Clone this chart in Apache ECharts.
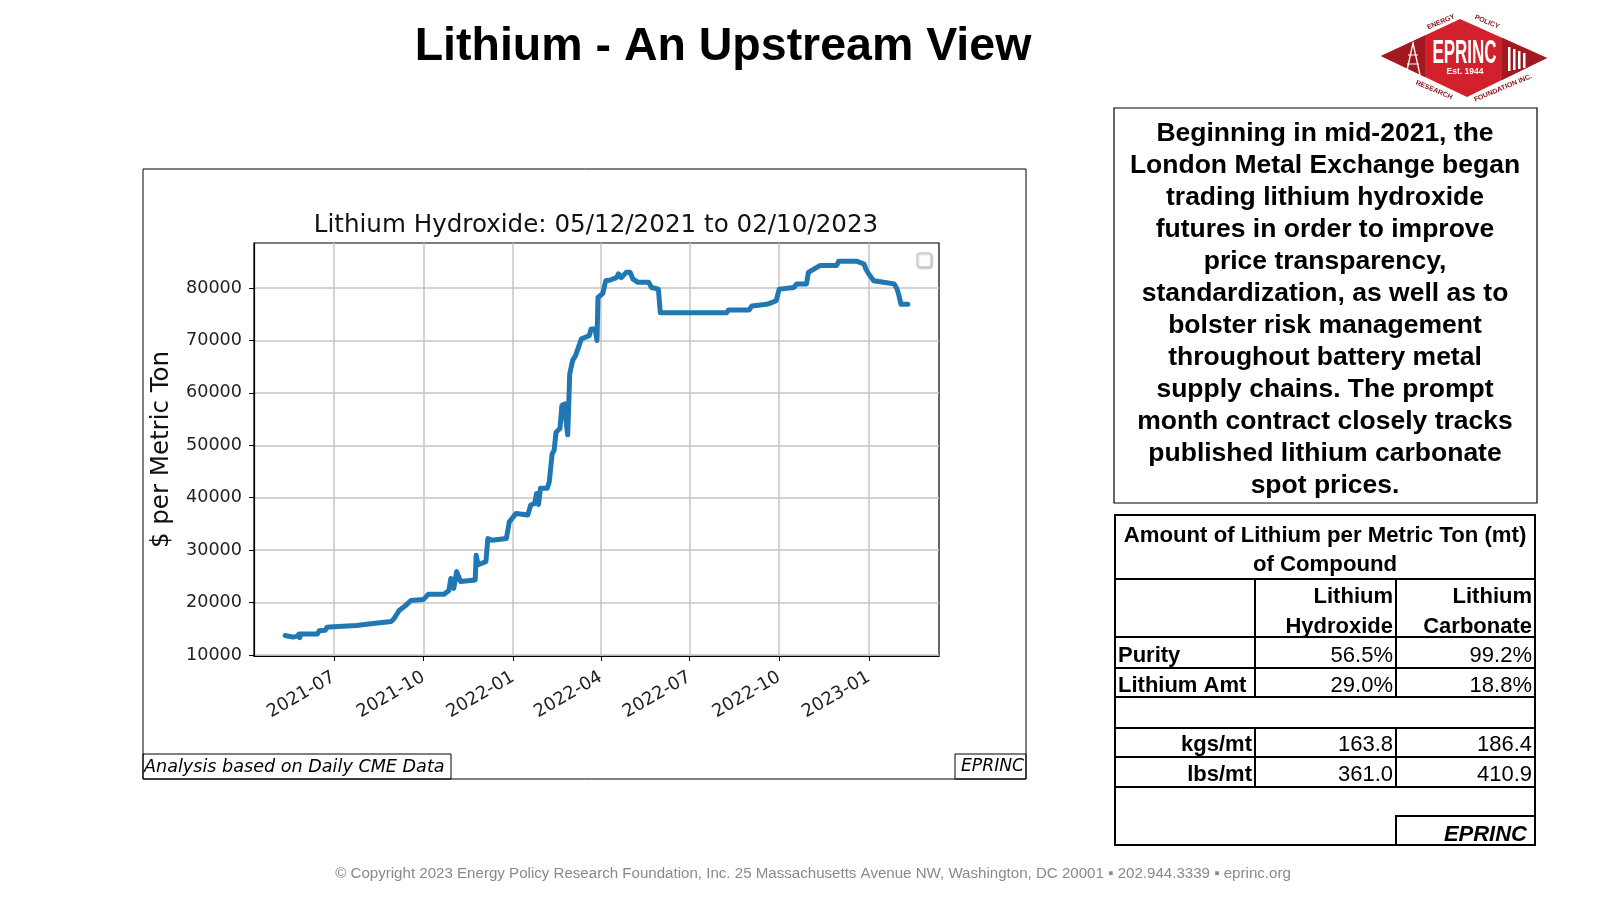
<!DOCTYPE html>
<html>
<head>
<meta charset="utf-8">
<title>Lithium - An Upstream View</title>
<script src="https://cdn.jsdelivr.net/npm/echarts@6/dist/echarts.min.js"></script>
<style>
  html, body { margin: 0; padding: 0; background: #fff; }
  #main { width: 1600px; height: 900px; }
</style>
</head>
<body>
<div id="main"></div>
<script>
// LME lithium hydroxide, $ per metric ton
var priceDates = [
  '2021-05-12','2021-05-14','2021-05-20','2021-05-25','2021-05-26','2021-05-27','2021-05-28','2021-06-14',
  '2021-06-16','2021-06-22','2021-06-24','2021-07-01','2021-07-24','2021-08-10','2021-08-29','2021-09-01',
  '2021-09-06','2021-09-13','2021-09-18','2021-10-01','2021-10-06','2021-10-22','2021-10-27','2021-10-29',
  '2021-11-01','2021-11-04','2021-11-08','2021-11-23','2021-11-24','2021-11-26','2021-12-04','2021-12-06',
  '2021-12-10','2021-12-25','2021-12-28','2022-01-04','2022-01-16','2022-01-19','2022-01-23','2022-01-25',
  '2022-01-27','2022-01-29','2022-02-05','2022-02-07','2022-02-10','2022-02-12','2022-02-14','2022-02-18',
  '2022-02-20','2022-02-23','2022-02-24','2022-02-26','2022-02-28','2022-03-03','2022-03-06','2022-03-12',
  '2022-03-20','2022-03-22','2022-03-26','2022-03-28','2022-03-29','2022-04-03','2022-04-06','2022-04-10',
  '2022-04-17','2022-04-19','2022-04-22','2022-04-27','2022-05-01','2022-05-04','2022-05-09','2022-05-20',
  '2022-05-23','2022-05-30','2022-06-01','2022-08-08','2022-08-10','2022-08-31','2022-09-03','2022-09-18',
  '2022-09-23','2022-09-28','2022-10-01','2022-10-16','2022-10-19','2022-10-29','2022-10-31','2022-11-09',
  '2022-11-12','2022-11-29','2022-12-01','2022-12-20','2022-12-27','2022-12-29','2023-01-02','2023-01-06',
  '2023-01-16','2023-01-27','2023-01-30','2023-02-01','2023-02-03','2023-02-10'
];
var priceValues = [
  13700, 13400, 13400, 13600, 14000, 13300, 14000, 14000,
  14600, 14700, 15300, 15400, 15600, 16000, 16400, 17000,
  18500, 19500, 20400, 20600, 21600, 21600, 22300, 24600,
  22700, 25900, 24000, 24300, 29000, 27200, 27800, 32200,
  31900, 32200, 35400, 37000, 36700, 38600, 38900, 40800,
  38700, 41800, 41800, 43000, 48400, 49000, 52500, 53200,
  57600, 57900, 55000, 52000, 63600, 66200, 67100, 70300,
  70900, 72200, 72200, 70000, 78200, 79000, 81400, 81500,
  82000, 82700, 82000, 83000, 83000, 81700, 81100, 81100,
  80100, 79800, 75300, 75300, 75800, 75800, 76600, 76900,
  77200, 77600, 79800, 80100, 80800, 80800, 83000, 84000,
  84300, 84300, 85100, 85100, 84600, 83600, 82400, 81400,
  81100, 80800, 79800, 78500, 76900, 76900
];
var xTickDates = ['2021-07-01','2021-10-01','2022-01-01','2022-04-01','2022-07-01','2022-10-01','2023-01-01'];
var yTickValues = [10000, 20000, 30000, 40000, 50000, 60000, 70000, 80000];

var noteLines = [
  'Beginning in mid-2021, the',
  'London Metal Exchange began',
  'trading lithium hydroxide',
  'futures in order to improve',
  'price transparency,',
  'standardization, as well as to',
  'bolster risk management',
  'throughout battery metal',
  'supply chains. The prompt',
  'month contract closely tracks',
  'published lithium carbonate',
  'spot prices.'
];

var tableTitle = ['Amount of Lithium per Metric Ton (mt)', 'of Compound'];
var tableHeads = [['Lithium', 'Hydroxide'], ['Lithium', 'Carbonate']];
var rowLabels = ['Purity', 'Lithium Amt', 'kgs/mt', 'lbs/mt'];
var hydroxideVals = ['56.5%', '29.0%', '163.8', '361.0'];
var carbonateVals = ['99.2%', '18.8%', '186.4', '410.9'];

var chart = echarts.init(document.getElementById('main'));

function ts(d) { return +new Date(d + 'T00:00:00'); }
function pad(n) { return n < 10 ? '0' + n : '' + n; }

var seriesData = priceDates.map(function (d, i) { return [ts(d), priceValues[i]]; });
var xTicks = xTickDates.map(ts);

var SANS = 'Liberation Sans, Arial, sans-serif';
var MPL = 'DejaVu Sans, sans-serif';

function txt(x, y, s, o) {
  o = o || {};
  return {
    type: 'text', x: x, y: y, rotation: o.rot || 0, silent: true,
    scaleX: o.sx || 1,
    style: {
      text: s, align: o.align || 'left', verticalAlign: 'middle',
      font: (o.style || 'normal') + ' ' + (o.weight || 'normal') + ' ' + (o.size || 22) + 'px ' + (o.family || SANS),
      fill: o.color || '#000'
    }
  };
}
function hline(x1, x2, y, w, c) {
  return { type: 'line', silent: true, shape: { x1: x1, y1: y, x2: x2, y2: y }, style: { stroke: c || '#000', lineWidth: w || 2 } };
}
function vline(x, y1, y2, w) {
  return { type: 'line', silent: true, shape: { x1: x, y1: y1, x2: x, y2: y2 }, style: { stroke: '#000', lineWidth: w || 2 } };
}
function box(x, y, w, h, lw) {
  return { type: 'rect', silent: true, shape: { x: x, y: y, width: w, height: h }, style: { fill: 'none', stroke: '#000', lineWidth: lw || 1 } };
}

var g = [];

// chart frame and its footnote boxes
g.push(box(143, 169, 883, 610, 1));
g.push(box(143, 754, 308, 25, 1));
g.push(txt(144, 767, 'Analysis based on Daily CME Data', { family: MPL, size: 17.6, style: 'italic' }));
g.push(box(955, 754, 71, 25, 1));
g.push(txt(961, 767, 'EPRINC', { family: MPL, size: 17.2, style: 'italic' }));
// empty matplotlib legend
g.push({ type: 'rect', silent: true, shape: { x: 917, y: 253, width: 14, height: 14, r: 3 },
  style: { fill: '#fff', stroke: '#cfcfcf', lineWidth: 1.5, shadowBlur: 2, shadowColor: 'rgba(0,0,0,0.25)', shadowOffsetX: 1, shadowOffsetY: 1 } });

// note box
g.push(box(1114, 108, 423, 395, 1.2));
noteLines.forEach(function (s, i) {
  g.push(txt(1325, 134 + i * 32, s, { weight: 'bold', size: 26.5, align: 'center' }));
});

// table
var TL = 1115, TR = 1535, C1 = 1255, C2 = 1396;
g.push(box(TL, 515, TR - TL, 330, 2));
[579, 637, 668, 697, 728, 757, 787].forEach(function (y) { g.push(hline(TL, TR, y)); });
[[579, 697], [728, 787]].forEach(function (r) { g.push(vline(C1, r[0], r[1])); g.push(vline(C2, r[0], r[1])); });
g.push(box(C2, 816, TR - C2, 29, 2));
g.push(txt(1325, 536, tableTitle[0], { weight: 'bold', size: 22.2, align: 'center' }));
g.push(txt(1325, 565, tableTitle[1], { weight: 'bold', size: 22.2, align: 'center' }));
g.push(txt(C2 - 3, 597, tableHeads[0][0], { weight: 'bold', size: 22, align: 'right' }));
g.push(txt(C2 - 3, 627, tableHeads[0][1], { weight: 'bold', size: 22, align: 'right' }));
g.push(txt(TR - 3, 597, tableHeads[1][0], { weight: 'bold', size: 22, align: 'right' }));
g.push(txt(TR - 3, 627, tableHeads[1][1], { weight: 'bold', size: 22, align: 'right' }));
var rowY = [656, 686, 745, 775];
rowLabels.forEach(function (s, i) {
  if (i < 2) g.push(txt(TL + 3, rowY[i], s, { weight: 'bold', size: 22 }));
  else g.push(txt(C1 - 3, rowY[i], s, { weight: 'bold', size: 22, align: 'right' }));
  g.push(txt(C2 - 3, rowY[i], hydroxideVals[i], { size: 22, align: 'right' }));
  g.push(txt(TR - 3, rowY[i], carbonateVals[i], { size: 22, align: 'right' }));
});
g.push(txt(TR - 8, 835, 'EPRINC', { weight: 'bold', size: 22, style: 'italic', align: 'right' }));

// logo
var RED = '#d2202c', DARK = '#a11a22';
g.push({ type: 'polygon', silent: true, shape: { points: [[1381, 56], [1460, 19], [1547, 58], [1467, 97]] }, style: { fill: RED } });
g.push({ type: 'polygon', silent: true, shape: { points: [[1381, 56], [1425, 35.4], [1425, 77]] }, style: { fill: DARK } });
g.push({ type: 'polygon', silent: true, shape: { points: [[1502, 37.8], [1547, 58], [1502, 80]] }, style: { fill: DARK } });
g.push({ type: 'polyline', silent: true, shape: { points: [[1406, 75], [1413, 43], [1420, 75]] }, style: { stroke: '#fff', lineWidth: 1.3, fill: 'none' } });
g.push(hline(1408, 1418, 55, 1, '#fff'));
g.push(hline(1407, 1419, 64, 1, '#fff'));
[1508, 1513, 1518, 1523].forEach(function (x, i) {
  g.push({ type: 'rect', silent: true, shape: { x: x, y: 47 + i * 2, width: 2.5, height: 24 - i * 3 }, style: { fill: '#fff' } });
});
g.push(txt(1464.5, 54, 'EPRINC', { weight: 'bold', size: 34, align: 'center', color: '#fff', sx: 0.5 }));
g.push(txt(1465, 72, 'Est. 1944', { weight: 'bold', size: 8.5, align: 'center', color: '#fff' }));
g.push(txt(1441, 22, 'ENERGY', { weight: 'bold', size: 7, align: 'center', color: '#8c1a20', rot: 0.4 }));
g.push(txt(1487, 22, 'POLICY', { weight: 'bold', size: 7, align: 'center', color: '#8c1a20', rot: -0.4 }));
g.push(txt(1434, 90, 'RESEARCH', { weight: 'bold', size: 7, align: 'center', color: '#8c1a20', rot: -0.4 }));
g.push(txt(1503, 88, 'FOUNDATION INC.', { weight: 'bold', size: 7, align: 'center', color: '#8c1a20', rot: 0.4 }));

// footer
g.push(txt(813, 874, '\u00a9 Copyright 2023 Energy Policy Research Foundation, Inc. 25 Massachusetts Avenue NW, Washington, DC 20001 \u25aa 202.944.3339 \u25aa eprinc.org',
  { size: 15.1, align: 'center', color: '#8a8a8a' }));

var option = {
  animation: false,
  backgroundColor: '#fff',
  title: [
    { text: 'Lithium - An Upstream View', left: 718, top: 19, textAlign: 'center',
      textStyle: { fontFamily: SANS, fontWeight: 'bold', fontSize: 46.5, color: '#000' } },
    { text: 'Lithium Hydroxide: 05/12/2021 to 02/10/2023', left: 591, top: 208, textAlign: 'center',
      textStyle: { fontFamily: MPL, fontWeight: 'normal', fontSize: 24.6, color: '#111' } }
  ],
  grid: { left: 254, top: 243, width: 685, height: 413, containLabel: false, outerBoundsMode: 'none',
    show: true, borderColor: '#000', borderWidth: 1.2, backgroundColor: 'transparent' },
  xAxis: {
    type: 'value',
    min: ts('2021-04-10'), max: ts('2023-03-14'),
    axisLine: { show: true, lineStyle: { color: '#000', width: 1.2 } },
    axisTick: { show: true, length: 5, lineStyle: { color: '#000', width: 1 }, customValues: xTicks },
    axisLabel: {
      customValues: xTicks, rotate: 30, margin: 20, fontFamily: MPL, fontSize: 18, color: '#222',
      formatter: function (v) { var d = new Date(v); return d.getFullYear() + '-' + pad(d.getMonth() + 1); }
    },
    splitLine: { show: true, lineStyle: { color: '#c4c4c4', width: 1.5 } }
  },
  yAxis: {
    type: 'value',
    min: 9800, max: 88600,
    name: '$ per Metric Ton', nameLocation: 'middle', nameGap: 80,
    nameTextStyle: { fontFamily: MPL, fontSize: 24.5, color: '#111' },
    axisLine: { show: true, lineStyle: { color: '#000', width: 1.2 } },
    axisTick: { show: true, length: 5, lineStyle: { color: '#000', width: 1 }, customValues: yTickValues },
    axisLabel: { customValues: yTickValues, margin: 12, fontFamily: MPL, fontSize: 17.6, color: '#222',
      formatter: function (v) { return String(v); } },
    splitLine: { show: true, lineStyle: { color: '#c4c4c4', width: 1.5 } }
  },
  series: [{
    name: 'Lithium Hydroxide', type: 'line', data: seriesData,
    showSymbol: false, symbol: 'none', clip: true,
    lineStyle: { color: '#1f77b4', width: 5, join: 'round', cap: 'round' }
  }],
  graphic: g
};

chart.setOption(option);
</script>
</body>
</html>
